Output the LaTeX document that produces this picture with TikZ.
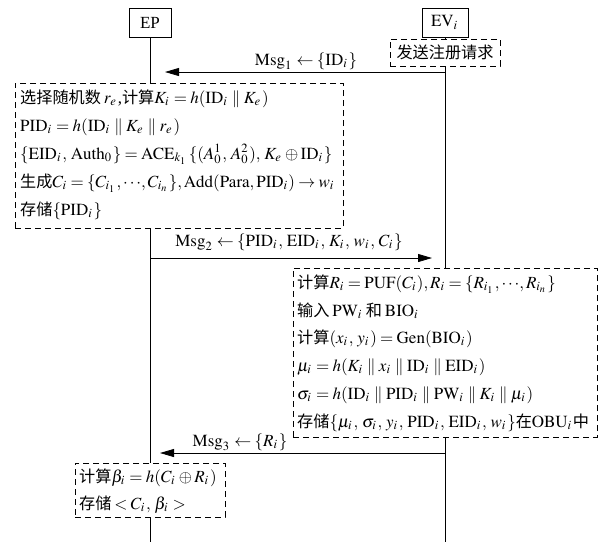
\documentclass[tikz,border=0pt]{standalone}
\usepackage{mathptmx}
\usepackage{fontspec}
\setmainfont{Liberation Serif}
\newfontfamily\cjk[Scale=0.95]{Noto Sans CJK SC}
\usetikzlibrary{arrows.meta,calc}
\newcommand\zhs[1]{{\cjk #1}}
\newcommand\tightmath{\thinmuskip=2mu\relax\scriptspace=1.2pt\relax}
\scriptspace=1.8pt
\thickmuskip=3.5mu plus 2mu
\thinmuskip=4mu
\begin{document}
\begin{tikzpicture}[x=1pt,y=-1pt,
  every node/.style={font=\fontsize{17}{20}\selectfont, inner sep=0pt},
  actor/.style={draw, line width=0.8pt, minimum height=29pt},
  dbox/.style={draw, dash pattern=on 6pt off 4pt, line width=0.8pt, fill=white},
  lline/.style={line width=0.8pt},
  msg/.style={line width=0.8pt, -{Triangle[length=14pt,width=8pt]}},
  txt/.style={anchor=base west}]
\useasboundingbox (0,0) rectangle (605,542);
% actors
\node[actor, minimum width=42pt] (EP) at (150,22.5) {EP};
\node[actor, minimum width=46pt] (EV) at (445,22.5) {$\mathrm{EV}_i$};
\node[dbox, minimum width=110pt, minimum height=27pt] (req) at (445,52.5) {\zhs{发送注册请求}};
% boxes
\node[dbox, minimum width=328pt, minimum height=145pt] (box1) at (179,155.5) {};
\node[dbox, minimum width=304pt, minimum height=169pt] (box2) at (445,352.5) {};
\node[dbox, minimum width=150pt, minimum height=54pt] (box3) at (150,490) {};
\coordinate (bot) at (0,542);
% lifelines
\draw[lline] (EP.south) -- (EP.south |- box1.north);
\draw[lline] (box1.south -| EP) -- (box3.north);
\draw[lline] (box3.south) -- (EP |- bot);
\draw[lline] (EV.south) -- (req.north);
\draw[lline] (req.south) -- (box2.north);
\draw[lline] (box2.south) -- (EV |- bot);
% box1 text
\node[txt] (b1l1) at (20,103) {\zhs{选择随机数}\,$r_e$,\zhs{计算}$K_i=h(\mathrm{ID}_i\parallel K_e)$};
\node[txt] (b1l2) at (20,131) {$\mathrm{PID}_i=h(\mathrm{ID}_i\parallel K_e\parallel r_e)$};
\node[txt] (b1l3) at (20,159) {$\{\mathrm{EID}_i,\mathrm{Auth}_0\}=\mathrm{ACE}_{k_1}\{(A_0^1,A_0^2),K_e\oplus\mathrm{ID}_i\}$};
\node[txt] (b1l4) at (20,187) {\tightmath\zhs{生成}$C_i=\{C_{i_1},{\cdots},C_{i_n}\},\mathrm{Add}(\mathrm{Para},\mathrm{PID}_i)\rightarrow w_i$};
\node[txt] (b1l5) at (20,215) {\zhs{存储}$\{\mathrm{PID}_i\}$};
% box2 text
\node[txt] (b2l1) at (297,288) {\tightmath\zhs{计算}$R_i=\mathrm{PUF}(C_i),R_i=\{R_{i_1},{\cdots},R_{i_n}\}$};
\node[txt] (b2l2) at (297,316) {\zhs{输入}\,$\mathrm{PW}_i$\,\zhs{和}\,$\mathrm{BIO}_i$};
\node[txt] (b2l3) at (297,343) {\zhs{计算}$(x_i,y_i)=\mathrm{Gen}(\mathrm{BIO}_i)$};
\node[txt] (b2l4) at (297,371) {$\mu_i=h(K_i\parallel x_i\parallel \mathrm{ID}_i\parallel \mathrm{EID}_i)$};
\node[txt] (b2l5) at (297,399) {$\sigma_i=h(\mathrm{ID}_i\parallel \mathrm{PID}_i\parallel \mathrm{PW}_i\parallel K_i\parallel \mu_i)$};
\node[txt] (b2l6) at (297,427) {\zhs{存储}$\{\mu_i,\sigma_i,y_i,\mathrm{PID}_i,\mathrm{EID}_i,w_i\}$\zhs{在}$\mathrm{OBU}_i$\zhs{中}};
% box3 text
\node[txt] (b3l1) at (79,482) {\zhs{计算}$\beta_i=h(C_i\oplus R_i)$};
\node[txt] (b3l2) at (79,509) {\zhs{存储}\,$<C_i,\beta_i>$};
% messages
\coordinate (m1s) at (445,72);
\coordinate (m1e) at (165,72);
\draw[msg] (m1s) -- (m1e);
\node[anchor=base] (m1) at (306,65) {$\mathrm{Msg}_1\leftarrow\{\mathrm{ID}_i\}$};
\coordinate (m2s) at (150,258);
\coordinate (m2e) at (432,258);
\draw[msg] (m2s) -- (m2e);
\node[anchor=base] (m2) at (289,246) {$\mathrm{Msg}_2\leftarrow\{\mathrm{PID}_i,\mathrm{EID}_i,K_i,w_i,C_i\}$};
\coordinate (m3s) at (445,453);
\coordinate (m3e) at (160,453);
\draw[msg] (m3s) -- (m3e);
\node[anchor=base] (m3) at (240,446) {$\mathrm{Msg}_3\leftarrow\{R_i\}$};
\end{tikzpicture}
\end{document}
